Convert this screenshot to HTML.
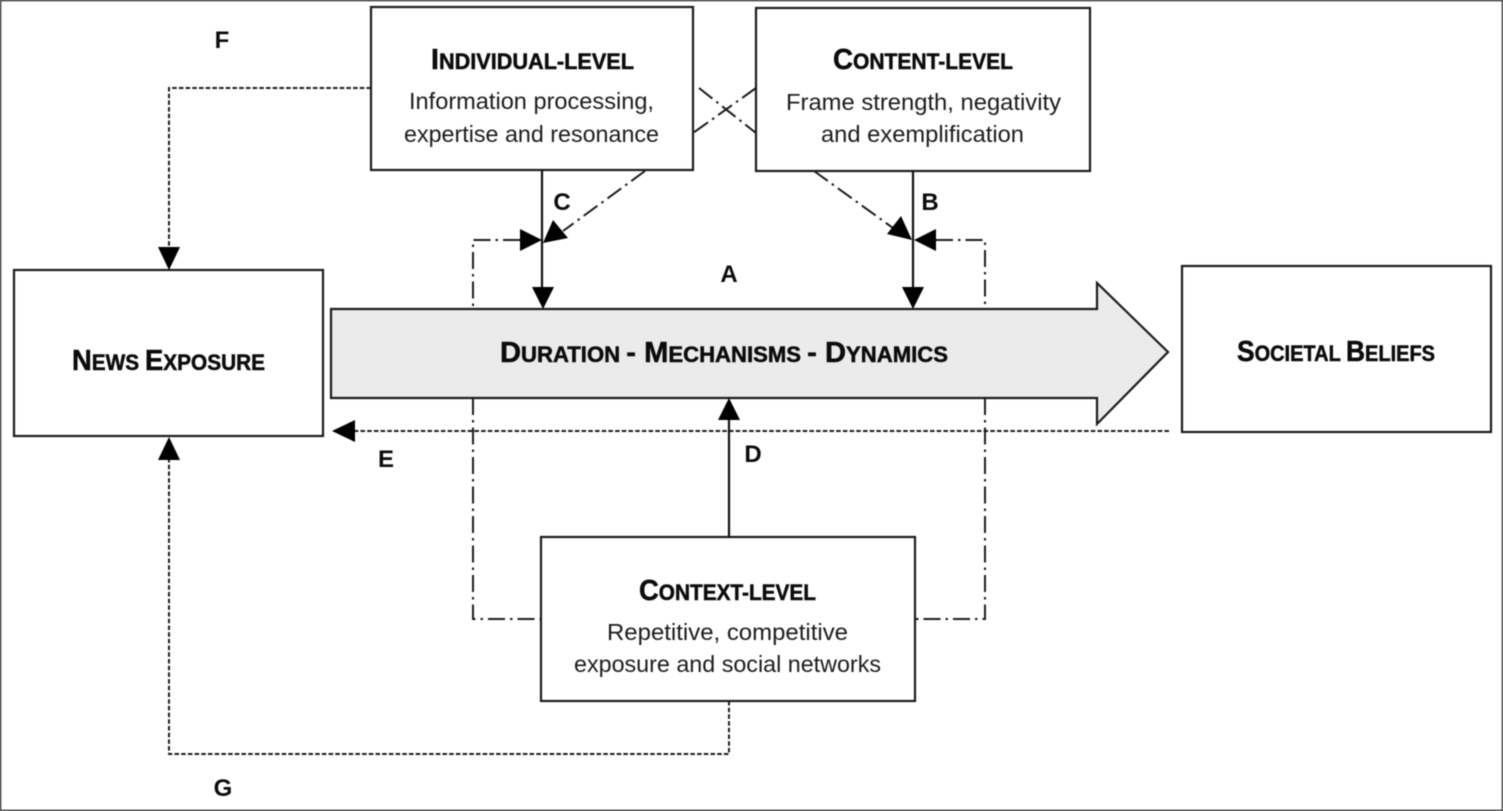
<!DOCTYPE html>
<html>
<head>
<meta charset="utf-8">
<style>
html,body{margin:0;padding:0;background:#fff;width:1503px;height:811px;overflow:hidden}
svg{display:block;filter:blur(.4px)}
text{font-family:"Liberation Sans",sans-serif;fill:#0c0c0c}
.t{font-weight:bold;font-size:29px;stroke:#0c0c0c;stroke-width:.5px}
.s{font-size:22px}
.b{font-size:23px;fill:#1c1c1c}
.l{font-weight:bold;font-size:24px;text-anchor:middle}
.box{fill:#fff;stroke:#1c1c1c;stroke-width:2.2}
.sol{fill:none;stroke:#111;stroke-width:2.2}
.dash{fill:none;stroke:#1c1c1c;stroke-width:2;stroke-dasharray:4.5 2.2}
.dd{fill:none;stroke:#1c1c1c;stroke-width:2;stroke-dasharray:17 5 2.5 5}
.h{fill:#000;stroke:none}
</style>
</head>
<body>
<svg width="1503" height="811" viewBox="0 0 1503 811" xmlns="http://www.w3.org/2000/svg">
<rect width="1503" height="811" fill="#fff"/>
<rect x=".5" y=".5" width="1502" height="810" fill="none" stroke="#111" stroke-width="1.4"/>

<!-- dash-dot frame lines -->
<path class="dd" d="M520 240H473V309"/>
<path class="dd" d="M473 398V619H540"/>
<path class="dd" d="M936 240H985V309"/>
<path class="dd" d="M985 398V619H915"/>
<path class="dd" d="M645 171L563 231"/>
<path class="dd" d="M814 171L893 228"/>
<path class="dd" d="M756 88L693 133"/>
<path class="dd" d="M699 88L756 133"/>

<!-- dashed lines -->
<path class="dash" d="M371 88H169V248"/>
<path class="dash" d="M729 701V754H169V459"/>

<!-- main arrow -->
<path d="M331 309H1097V283L1168 352L1097 424V398H331Z" fill="#ebebeb" stroke="#1c1c1c" stroke-width="2.2"/>
<path class="dash" d="M1169 431H355"/>

<!-- boxes -->
<rect class="box" x="371" y="7" width="322" height="163"/>
<rect class="box" x="756" y="8" width="334" height="163"/>
<rect class="box" x="14" y="270" width="309" height="166"/>
<rect class="box" x="1182" y="266" width="309" height="166"/>
<rect class="box" x="541" y="537" width="374" height="164"/>

<!-- solid connectors -->
<path class="sol" d="M542 171V288"/>
<path class="sol" d="M913 171V288"/>
<path class="sol" d="M729 537V420"/>

<!-- arrowheads -->
<path class="h" d="M169 270L158 247H180Z"/>
<path class="h" d="M169 437L158 460H180Z"/>
<path class="h" d="M332 431L355 420V442Z"/>
<path class="h" d="M543 309L532 287H554Z"/>
<path class="h" d="M913 309L902 287H924Z"/>
<path class="h" d="M729 398L718 420H740Z"/>
<path class="h" d="M542 240L520 229V251Z"/>
<path class="h" d="M914 240L936 229V251Z"/>
<path class="h" d="M543 243L553 220L568 238Z"/>
<path class="h" d="M912 240L887 234L901 216Z"/>

<!-- titles -->
<text class="t" x="431" y="69" textLength="203" lengthAdjust="spacingAndGlyphs">I<tspan class="s">NDIVIDUAL-LEVEL</tspan></text>
<text class="t" x="833" y="69" textLength="180" lengthAdjust="spacingAndGlyphs">C<tspan class="s">ONTENT-LEVEL</tspan></text>
<text class="t" x="639" y="600" textLength="177" lengthAdjust="spacingAndGlyphs">C<tspan class="s">ONTEXT-LEVEL</tspan></text>
<text class="t" x="72" y="370" textLength="193" lengthAdjust="spacingAndGlyphs">N<tspan class="s">EWS </tspan>E<tspan class="s">XPOSURE</tspan></text>
<text class="t" x="1237" y="361" textLength="198" lengthAdjust="spacingAndGlyphs">S<tspan class="s">OCIETAL </tspan>B<tspan class="s">ELIEFS</tspan></text>
<text class="t" x="500" y="362" textLength="448" lengthAdjust="spacingAndGlyphs">D<tspan class="s">URATION </tspan>- M<tspan class="s">ECHANISMS </tspan>- D<tspan class="s">YNAMICS</tspan></text>

<!-- body -->
<text class="b" x="409" y="109" textLength="245" lengthAdjust="spacingAndGlyphs">Information processing,</text>
<text class="b" x="404" y="142" textLength="255" lengthAdjust="spacingAndGlyphs">expertise and resonance</text>
<text class="b" x="786" y="110" textLength="275" lengthAdjust="spacingAndGlyphs">Frame strength, negativity</text>
<text class="b" x="821" y="142" textLength="203" lengthAdjust="spacingAndGlyphs">and exemplification</text>
<text class="b" x="607" y="640" textLength="241" lengthAdjust="spacingAndGlyphs">Repetitive, competitive</text>
<text class="b" x="574" y="672" textLength="307" lengthAdjust="spacingAndGlyphs">exposure and social networks</text>

<!-- letters -->
<text class="l" x="222" y="48">F</text>
<text class="l" x="562" y="210">C</text>
<text class="l" x="930" y="210">B</text>
<text class="l" x="729" y="282">A</text>
<text class="l" x="386" y="467">E</text>
<text class="l" x="753" y="462">D</text>
<text class="l" x="223" y="796">G</text>
</svg>
</body>
</html>
